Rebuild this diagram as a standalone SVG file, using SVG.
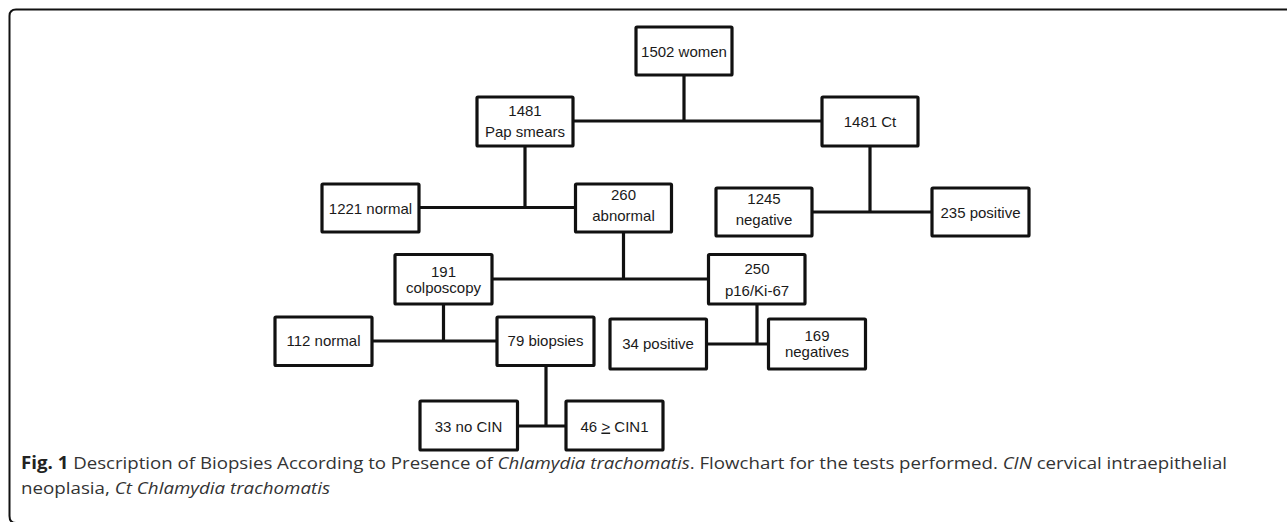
<svg xmlns="http://www.w3.org/2000/svg" width="1287" height="522" viewBox="0 0 1287 522">
<style>
.box{fill:#fff;stroke:#111;stroke-width:3.2}
.t{font-family:"Liberation Sans",Arial,sans-serif;font-size:15px;fill:#1a1a1a;text-anchor:middle}
.ln{stroke:#111;stroke-width:3.2;fill:none}
.cap{font-family:"Open Sans","Noto Sans",sans-serif;font-size:17px;fill:#333}
</style>
<rect width="1287" height="522" fill="#fff"/>
<path d="M1287 9.5 H16 Q9.5 9.5 9.5 16 V516 Q9.5 523 16 523 H1287" fill="none" stroke="#111" stroke-width="2"/>
<g id="connectors">
<path class="ln" d="M684 75 V121 M573 121 H822"/>
<path class="ln" d="M525 146 V207.5 M419 207.5 H575"/>
<path class="ln" d="M870 146 V212 M812 212 H932"/>
<path class="ln" d="M623.5 232 V279 M492 279 H708"/>
<path class="ln" d="M443.5 304 V341 M372 341 H497"/>
<path class="ln" d="M757 304 V344 M707 344 H768"/>
<path class="ln" d="M546 366 V426 M518 426 H566"/>
</g>
<g id="n1502"><rect class="box" x="636" y="27" width="96" height="48" rx="1"/><text class="t" x="684" y="56.5">1502 women</text></g>
<g id="npap"><rect class="box" x="477" y="97" width="96" height="49" rx="1"/><text class="t" x="525" y="115.5">1481</text><text class="t" x="525" y="137">Pap smears</text></g>
<g id="nct"><rect class="box" x="822" y="97" width="96" height="49" rx="1"/><text class="t" x="870" y="126.5">1481 Ct</text></g>
<g id="n1221"><rect class="box" x="322" y="184" width="97" height="48" rx="1"/><text class="t" x="370.5" y="213.5">1221 normal</text></g>
<g id="n260"><rect class="box" x="575.5" y="184" width="96" height="48" rx="1"/><text class="t" x="623.5" y="199.5">260</text><text class="t" x="623.5" y="220.5">abnormal</text></g>
<g id="n1245"><rect class="box" x="716" y="188" width="96" height="48" rx="1"/><text class="t" x="764" y="204">1245</text><text class="t" x="764" y="225">negative</text></g>
<g id="n235"><rect class="box" x="932" y="188" width="97" height="48" rx="1"/><text class="t" x="980.5" y="217.5">235 positive</text></g>
<g id="n191"><rect class="box" x="395" y="254.5" width="97" height="49.5" rx="1"/><text class="t" x="443.5" y="276.5">191</text><text class="t" x="443.5" y="292.5">colposcopy</text></g>
<g id="n250"><rect class="box" x="708.5" y="254.5" width="96.5" height="49.5" rx="1"/><text class="t" x="757" y="274">250</text><text class="t" x="757" y="295.5">p16/Ki-67</text></g>
<g id="n112"><rect class="box" x="275" y="317" width="97" height="48.5" rx="1"/><text class="t" x="323.5" y="346">112 normal</text></g>
<g id="n79"><rect class="box" x="497" y="317" width="97" height="48.5" rx="1"/><text class="t" x="545.5" y="346">79 biopsies</text></g>
<g id="n34"><rect class="box" x="610" y="319" width="96.5" height="50" rx="1"/><text class="t" x="658" y="349">34 positive</text></g>
<g id="n169"><rect class="box" x="768.5" y="319" width="97" height="50" rx="1"/><text class="t" x="817" y="341">169</text><text class="t" x="817" y="357">negatives</text></g>
<g id="n33"><rect class="box" x="420" y="401" width="97.5" height="49" rx="1"/><text class="t" x="468.5" y="431.5">33 no CIN</text></g>
<g id="n46"><rect class="box" x="566" y="401" width="97" height="49" rx="1"/><text class="t" x="614.5" y="431.5">46 <tspan text-decoration="underline">&gt;</tspan> CIN1</text></g>
<g id="caption">
<text class="cap" x="21" y="469" textLength="1206" lengthAdjust="spacingAndGlyphs"><tspan font-weight="bold" fill="#222">Fig. 1</tspan> Description of Biopsies According to Presence of <tspan font-style="italic">Chlamydia trachomatis</tspan>. Flowchart for the tests performed. <tspan font-style="italic">CIN</tspan> cervical intraepithelial</text>
<text class="cap" x="21" y="494" textLength="309" lengthAdjust="spacingAndGlyphs">neoplasia, <tspan font-style="italic">Ct Chlamydia trachomatis</tspan></text>
</g>
</svg>
